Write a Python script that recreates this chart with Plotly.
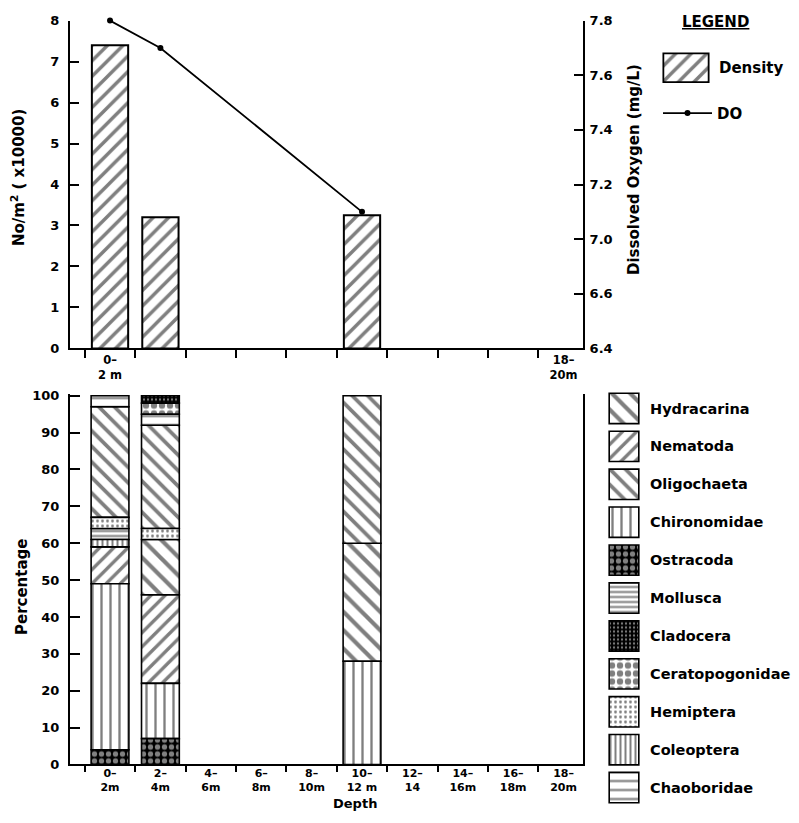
import plotly.graph_objects as go

# ---------------- data ----------------
depth_labels = ["0-2m", "2-4m", "4-6m", "6-8m", "8-10m", "10-12m",
                "12-14", "14-16m", "16-18m", "18-20m"]
depth_ticktext_bottom = ["0–<br>2m", "2–<br>4m", "4–<br>6m", "6–<br>8m", "8–<br>10m",
                         "10–<br>12 m", "12–<br>14", "14–<br>16m", "16–<br>18m", "18–<br>20m"]
depth_ticktext_top = ["0–<br>2 m", " ", " ", " ", " ", " ", " ", " ", " ", "18–<br>20m"]

density_depths = ["0-2m", "2-4m", "10-12m"]
density_values = [7.4, 3.2, 3.25]          # No/m2 (x10000)

do_depths = ["0-2m", "2-4m", "10-12m"]
do_values = [7.8, 7.7, 7.1]                # mg/L

density_ticks = [0, 1, 2, 3, 4, 5, 6, 7, 8]
do_tickvals = [6.6, 6.8, 7.0, 7.2, 7.4, 7.6, 7.8]
do_ticktext = ["6.4", "6.6", "7.0", "7.2", "7.4", "7.6", "7.8"]
pct_ticks = [0, 10, 20, 30, 40, 50, 60, 70, 80, 90, 100]

taxa = ["Hydracarina", "Nematoda", "Oligochaeta", "Chironomidae", "Ostracoda",
        "Mollusca", "Cladocera", "Ceratopogonidae", "Hemiptera", "Coleoptera",
        "Chaoboridae"]

# composition, listed bottom -> top (percent)
comp_0_2_taxa = ["Ostracoda", "Chironomidae", "Nematoda", "Coleoptera", "Mollusca",
                 "Hemiptera", "Oligochaeta", "Chaoboridae"]
comp_0_2_pct = [4, 45, 10, 2, 3, 3, 30, 3]

comp_2_4_taxa = ["Ostracoda", "Chironomidae", "Nematoda", "Hydracarina", "Hemiptera",
                 "Oligochaeta", "Chaoboridae", "Ceratopogonidae", "Cladocera"]
comp_2_4_pct = [7, 15, 24, 15, 3, 28, 3, 3, 2]

comp_10_12_taxa = ["Chironomidae", "Hydracarina", "Oligochaeta"]
comp_10_12_pct = [28, 32, 40]

compositions = [("0-2m", comp_0_2_taxa, comp_0_2_pct),
                ("2-4m", comp_2_4_taxa, comp_2_4_pct),
                ("10-12m", comp_10_12_taxa, comp_10_12_pct)]

# ---------------- styles ----------------
FONT = "DejaVu Sans"
BLACK = "#000000"
patterns = {
    "Hydracarina":     dict(shape="\\", size=13, solidity=0.32, fgcolor=BLACK, bgcolor="white"),
    "Nematoda":        dict(shape="/", size=10, solidity=0.34, fgcolor=BLACK, bgcolor="white"),
    "Oligochaeta":     dict(shape="\\", size=11, solidity=0.34, fgcolor=BLACK, bgcolor="white"),
    "Chironomidae":    dict(shape="|", size=9, solidity=0.26, fgcolor=BLACK, bgcolor="white"),
    "Ostracoda":       dict(shape=".", size=7, solidity=0.45, fgcolor="white", bgcolor=BLACK),
    "Mollusca":        dict(shape="-", size=5, solidity=0.4, fgcolor=BLACK, bgcolor="white"),
    "Cladocera":       dict(shape=".", size=4, solidity=0.25, fgcolor="white", bgcolor=BLACK),
    "Ceratopogonidae": dict(shape=".", size=8, solidity=0.5, fgcolor=BLACK, bgcolor="white"),
    "Hemiptera":       dict(shape=".", size=5, solidity=0.25, fgcolor=BLACK, bgcolor="white"),
    "Coleoptera":      dict(shape="|", size=5, solidity=0.4, fgcolor=BLACK, bgcolor="white"),
    "Chaoboridae":     dict(shape="-", size=9, solidity=0.24, fgcolor=BLACK, bgcolor="white"),
}
density_pattern = dict(shape="/", size=11, solidity=0.32, fgcolor=BLACK, bgcolor="white")

# figure size chosen to fit the window together with the page's body margin
W, H = 783, 807
def px_x(p):
    return (p - 8) / W
def px_y(p):
    return 1 - ((p - 15.4) / 0.979) / H

fig = go.Figure()

# ---------------- top panel ----------------
fig.add_trace(go.Bar(
    x=density_depths, y=density_values, width=0.72,
    marker=dict(color="white", line=dict(color=BLACK, width=2), pattern=density_pattern),
    xaxis="x", yaxis="y", showlegend=False, name="Density"))

fig.add_trace(go.Scatter(
    x=do_depths, y=do_values, mode="lines+markers", name="DO",
    line=dict(color=BLACK, width=1.8), marker=dict(color=BLACK, size=6),
    xaxis="x", yaxis="y2", showlegend=True, cliponaxis=False))

# ---------------- bottom panel (stacked composition) ----------------
seg = {t: dict(x=[], y=[], base=[]) for t in taxa}
for depth, tlist, plist in compositions:
    cum = 0
    for t, p in zip(tlist, plist):
        seg[t]["x"].append(depth)
        seg[t]["y"].append(p)
        seg[t]["base"].append(cum)
        cum += p

for t in taxa:
    if not seg[t]["x"]:
        continue
    fig.add_trace(go.Bar(
        x=seg[t]["x"], y=seg[t]["y"], base=seg[t]["base"], width=0.75,
        marker=dict(color="white", line=dict(color=BLACK, width=1.6), pattern=patterns[t]),
        xaxis="x3", yaxis="y3", showlegend=False, name=t))

# ---------------- taxa key (large swatches) ----------------
for t in taxa:
    fig.add_trace(go.Bar(
        x=[1], y=[t], orientation="h", width=0.8,
        marker=dict(color="white", line=dict(color=BLACK, width=1.6), pattern=patterns[t]),
        xaxis="x4", yaxis="y4", showlegend=False, hoverinfo="skip"))

# density key swatch
fig.add_trace(go.Bar(
    x=[1], y=["Density"], orientation="h", width=0.9,
    marker=dict(color="white", line=dict(color=BLACK, width=1.8), pattern=density_pattern),
    xaxis="x5", yaxis="y5", showlegend=False, hoverinfo="skip"))

tick_font = dict(family=FONT, size=13, color=BLACK, weight="bold")
xtick_font = dict(family=FONT, size=11.5, color=BLACK, weight="bold")
xtick_font_b = dict(family=FONT, size=11, color=BLACK, weight="bold")
key_font = dict(family=FONT, size=14.5, color=BLACK, weight="bold")
top_key_font = dict(family=FONT, size=15, color=BLACK, weight="bold")
title_font = dict(family=FONT, size=15, color=BLACK, weight="bold")
xdom = [px_x(70), px_x(583)]
xrange = [-0.794, 9.385]

fig.update_layout(
    width=W, height=H,
    margin=dict(l=0, r=0, t=0, b=0),
    paper_bgcolor="white", plot_bgcolor="white",
    font=dict(family=FONT, size=13, color=BLACK, weight="bold"),
    barmode="overlay",
    xaxis=dict(domain=xdom, anchor="y", type="category", categoryorder="array",
               categoryarray=depth_labels, range=xrange,
               tickmode="array", tickvals=depth_labels, ticktext=depth_ticktext_top,
               tickson="boundaries", ticks="outside", ticklen=8, tickwidth=1.5, tickcolor=BLACK,
               showline=True, linecolor=BLACK, linewidth=2, showgrid=False, zeroline=False,
               tickfont=xtick_font),
    yaxis=dict(domain=[px_y(348), px_y(21)], anchor="x", range=[0, 8],
               tickmode="array", tickvals=density_ticks,
               ticks="inside", ticklen=9, tickwidth=1.5, tickcolor=BLACK,
               showline=True, linecolor=BLACK, linewidth=2, showgrid=False, zeroline=False,
               ticklabelstandoff=6, tickfont=tick_font),
    yaxis2=dict(overlaying="y", side="right", anchor="x", range=[6.6, 7.8],
                tickmode="array", tickvals=do_tickvals, ticktext=do_ticktext,
                ticks="inside", ticklen=9, tickwidth=1.5, tickcolor=BLACK,
                showline=True, linecolor=BLACK, linewidth=2, showgrid=False, zeroline=False,
                ticklabelstandoff=2, tickfont=tick_font),
    xaxis3=dict(domain=xdom, anchor="y3", type="category", categoryorder="array",
                categoryarray=depth_labels, range=xrange,
                tickmode="array", tickvals=depth_labels, ticktext=depth_ticktext_bottom,
                tickson="boundaries", ticks="outside", ticklen=6, tickwidth=1.5, tickcolor=BLACK,
                showline=True, linecolor=BLACK, linewidth=2, showgrid=False, zeroline=False,
                ticklabelstandoff=-3, tickfont=xtick_font_b),
    yaxis3=dict(domain=[px_y(763), px_y(393)], anchor="x3", range=[0, 100.6],
                tickmode="array", tickvals=pct_ticks,
                ticks="inside", ticklen=10, tickwidth=1.5, tickcolor=BLACK,
                showline=True, mirror=True, linecolor=BLACK, linewidth=2,
                showgrid=False, zeroline=False, ticklabelstandoff=6, tickfont=tick_font),
    xaxis4=dict(domain=[px_x(608), px_x(640)], anchor="y4", range=[-0.04, 1.04],
                visible=False),
    yaxis4=dict(domain=[px_y(805), px_y(389)], anchor="x4", type="category",
                categoryorder="array", categoryarray=taxa[::-1], range=[-0.5, 10.5],
                side="right", ticks="", showline=False, showgrid=False, zeroline=False,
                ticklabelstandoff=9, tickfont=key_font),
    xaxis5=dict(domain=[px_x(662), px_x(710)], anchor="y5", range=[-0.03, 1.03],
                visible=False),
    yaxis5=dict(domain=[px_y(84), px_y(52)], anchor="x5", type="category",
                range=[-0.5, 0.5], side="right", ticks="", showline=False,
                showgrid=False, zeroline=False, ticklabelstandoff=8, tickfont=top_key_font),
    legend=dict(x=px_x(658), y=px_y(97), xanchor="left", yanchor="top",
                bgcolor="rgba(0,0,0,0)", borderwidth=0, itemwidth=49,
                font=top_key_font),
    annotations=[
        dict(text="<u>LEGEND</u>", x=px_x(715), y=px_y(22), xref="paper", yref="paper",
             xanchor="center", yanchor="middle", showarrow=False, font=top_key_font),
        dict(text="No/m<sup>2</sup> ( x10000)", x=px_x(18), y=px_y(178), xref="paper", yref="paper",
             xanchor="center", yanchor="middle", textangle=-90, showarrow=False,
             font=title_font),
        dict(text="Dissolved Oxygen (mg/L)", x=px_x(634), y=px_y(170), xref="paper", yref="paper",
             xanchor="center", yanchor="middle", textangle=-90, showarrow=False,
             font=title_font),
        dict(text="Percentage", x=px_x(22), y=px_y(586), xref="paper", yref="paper",
             xanchor="center", yanchor="middle", textangle=-90, showarrow=False,
             font=title_font),
        dict(text="Depth", x=px_x(355), y=px_y(802), xref="paper", yref="paper",
             xanchor="center", yanchor="middle", showarrow=False,
             font=dict(family=FONT, size=13, color=BLACK, weight="bold")),
    ],
)

fig.write_html("out.html")
